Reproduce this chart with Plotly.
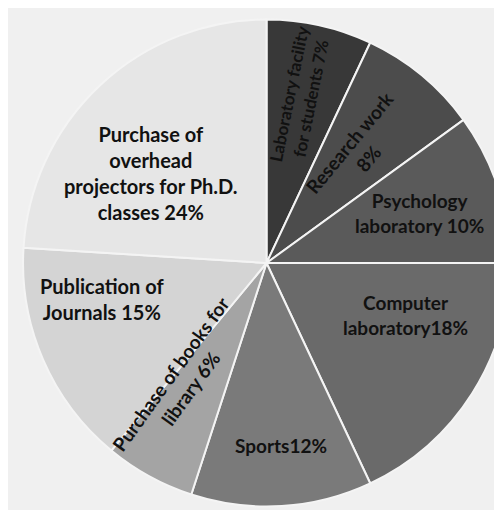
import math
import plotly.graph_objects as go

# ---- data ----
categories = [
    "Laboratory facility for students",
    "Research work",
    "Psychology laboratory",
    "Computer laboratory",
    "Sports",
    "Purchase of books for library",
    "Publication of Journals",
    "Purchase of overhead projectors for Ph.D. classes",
]
values = [7, 8, 10, 18, 12, 6, 15, 24]
label_texts = [
    "Laboratory facility<br>for students 7%",
    "Research work<br>8%",
    "Psychology<br>laboratory 10%",
    "Computer<br>laboratory18%",
    "Sports12%",
    "Purchase of books for<br>library 6%",
    "Publication of<br>Journals 15%",
    "Purchase of<br>overhead<br>projectors for Ph.D.<br>classes 24%",
]

# ---- style ----
colors = ["#383838", "#4c4c4c", "#5a5a5a", "#6a6a6a", "#7a7a7a", "#a4a4a4", "#d4d4d4", "#e6e6e6"]
label_frac = [0.70, 0.60, 0.66, 0.61, 0.75, 0.60, 0.69, 0.60]
label_shift = [-1.2, 0, 0, -12, -1, 7, 11, -9]   # degrees
label_radial = [True, True, False, False, False, True, False, False]
label_size = [17, 19, 19, 19, 19, 19, 20, 20]

W, H = 502, 510
dom_x = [0.03, 1.0]
dom_y = [0.0, 1.0]

fig = go.Figure(go.Pie(
    labels=categories, values=values, sort=False, direction="clockwise",
    rotation=0, textinfo="none", hoverinfo="label+percent",
    marker=dict(colors=colors, line=dict(color="#f4f4f4", width=2)),
    domain=dict(x=dom_x, y=dom_y), showlegend=False,
))

# pie geometry in paper pixels (derived from domain)
dw = (dom_x[1] - dom_x[0]) * W
dh = (dom_y[1] - dom_y[0]) * H
R = min(dw, dh) / 2
cx = dom_x[0] * W + dw / 2
cy = dom_y[0] * H + dh / 2   # from bottom

total = sum(values)
start = 0.0
for i, v in enumerate(values):
    span = v / total * 360
    mid = start + span / 2 + label_shift[i]
    start += span
    a = math.radians(mid)
    x = cx + R * label_frac[i] * math.sin(a)
    y = cy + R * label_frac[i] * math.cos(a)
    ang = 0
    if label_radial[i]:
        deg = 90 - mid if mid < 180 else 270 - mid
        ang = -deg
    fig.add_annotation(
        x=x / W, y=y / H, xref="paper", yref="paper",
        text="<b>" + label_texts[i].replace("<br>", "</b><br><b>") + "</b>",
        xanchor="center", yanchor="middle",
        showarrow=False, textangle=ang,
        font=dict(family="Lato", size=label_size[i], color="#111111"),
        align="center",
    )

fig.update_layout(
    width=W, height=H, margin=dict(l=0, r=0, t=0, b=0),
    paper_bgcolor="#f0f0f0", plot_bgcolor="#f0f0f0",
)
fig.write_html("out.html")
